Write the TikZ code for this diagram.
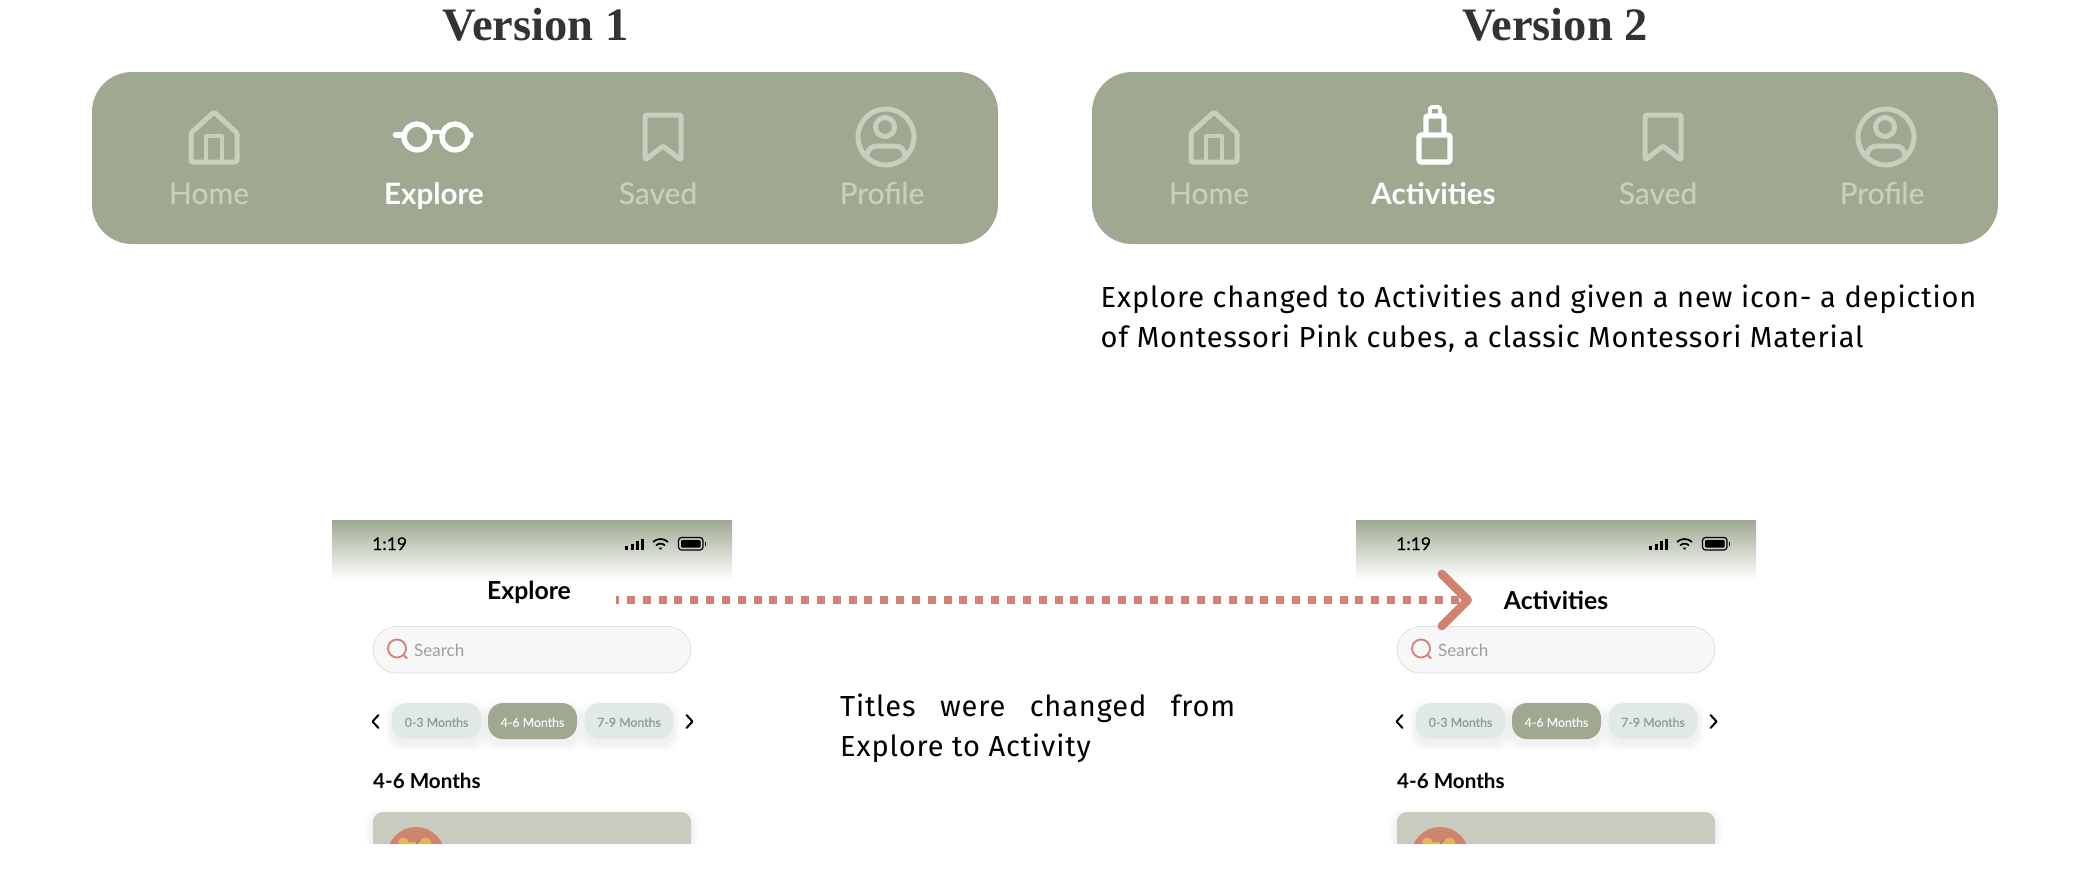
\documentclass[tikz,border=0pt]{standalone}
\usepackage{fontspec}
\setmainfont{Lato}
\newfontfamily\medfont[FakeBold=0.25]{Lato}
\newfontfamily\headfont{Liberation Serif}
\newfontfamily\notefont[LetterSpace=3]{Fira Sans}
\usetikzlibrary{arrows.meta, positioning}
\definecolor{sage}{HTML}{9FA992}
\definecolor{faded}{HTML}{C9CEBF}
\definecolor{salmon}{HTML}{D08371}
\definecolor{chipgrey}{HTML}{E0E9E6}
\definecolor{chiptext}{HTML}{8E9B8E}
\definecolor{cardgrey}{HTML}{C8CBBE}
\definecolor{earyellow}{HTML}{E8B45A}
\newcommand{\px}[1]{\fontsize{#1}{#1}\selectfont}
\newcommand{\softbox}[5]{%
    \foreach \g in {1,...,7}
        \fill[black, opacity=.007, rounded corners=#5pt] (#1-\g,#2+5-\g) rectangle (#3+\g,#4+5+\g);
}
\tikzset{
    vertitle/.style={inner sep=0pt, anchor=base, text=black!80, font=\headfont\bfseries\px{46.5}},
    navbar/.style={rectangle, fill=sage, rounded corners=40pt, minimum width=906pt, minimum height=172pt, inner sep=0pt},
    navlabel/.style={inner sep=0pt, anchor=base, text=faded, font=\medfont\px{30}},
    navactive/.style={inner sep=0pt, anchor=base, text=white, font=\bfseries\px{29.5}},
    fadedicon/.style={draw=faded, line width=5pt, line join=round, line cap=round, rounded corners=1.5pt},
    activeicon/.style={draw=white, line width=5.4pt, line join=round, line cap=round},
    note/.style={inner sep=0pt, anchor=base west, text=black, font=\notefont\fontsize{29}{40}\selectfont},
    screentitle/.style={inner sep=0pt, anchor=base, text=black, font=\bfseries\px{24.8}},
    chip/.style={rectangle, rounded corners=15pt, minimum width=89pt, minimum height=36pt, inner sep=0pt, text height=11.5pt, text depth=0pt, font=\medfont\px{12.3}},
    chiparrow/.style={draw=black, line width=2pt, line cap=round, line join=round},
    dotarrow/.style={draw=salmon, line width=7.5pt, dash pattern=on 8pt off 7.84pt, dash phase=5pt,
        -{Straight Barb[length=26pt, width=52pt, line width=8.5pt, round]}}
}
\begin{document}
\begin{tikzpicture}[x=1pt, y=-1pt]
\useasboundingbox (0,0) rectangle (2092,892);
% version titles
\node[vertitle] (titleone) at (535.5,40) {Version 1};
\node[vertitle] (titletwo) at (1555,40) {Version 2};
% nav bars
\node[navbar] (barone) at (545,158) {};
\node[navbar] (bartwo) at (1545,158) {};
\foreach \ver/\dx in {one/0,two/1000} {
    \begin{scope}[xshift=\dx pt]
        % home
        \draw[fadedicon] (191,133) -- (214,112) -- (237,133) -- (237,162) -- (191,162) -- cycle;
        \draw[fadedicon, line width=4pt, rounded corners=0pt] (206,162) -- (206,136) -- (222,136) -- (222,162);
        \node[navlabel] (\ver home) at (209,204) {Home};
        % saved
        \draw[fadedicon] (645,115) -- (681,115) -- (681,160) -- (663,146) -- (645,160) -- cycle;
        \node[navlabel] (\ver saved) at (658,204) {Saved};
        % profile
        \draw[fadedicon] (886,137) circle (28);
        \draw[fadedicon] (885,127) circle (9.5);
        \draw[fadedicon] (867,157) .. controls (867,149) and (872,146) .. (878,146) -- (894,146) .. controls (900,146) and (905,149) .. (905,157);
        \node[navlabel] (\ver profile) at (882,204) {Profile};
    \end{scope}
}
% active items
\draw[activeicon] (417,137) circle (13);
\draw[activeicon] (455,137) circle (13);
\draw[activeicon] (395.5,135) -- (404,135);
\draw[activeicon] (468,135) -- (471,135);
\draw[activeicon, line width=4pt] (429,134) .. controls (432,131) and (440,131) .. (443,134);
\node[navactive] (exploreitem) at (434,204) {Explore};
\draw[activeicon, rounded corners=2.5pt] (1419,135) rectangle (1450,162);
\draw[activeicon, rounded corners=1.5pt] (1426,133) -- (1426,116) -- (1444,116) -- (1444,133);
\draw[activeicon, line width=3.8pt, rounded corners=1.5pt] (1430,115) -- (1430,107) -- (1440,107) -- (1440,115);
\node[navactive] (activityitem) at (1433.5,204) {Activities};
% notes
\node[note] (noteone) at (1100.5,307) {Explore changed to Activities and given a new icon- a depiction};
\node[note] (notetwo) at (1100.5,347) {of Montessori Pink cubes, a classic Montessori Material};
\node[note, text width=395pt, align=justify, anchor=base west] (titlenote) at (840,716) {Titles were changed from\linebreak Explore to Activity};
% the two phone screens
\foreach \ver/\dx in {one/0,two/1024} {
    \begin{scope}[xshift=\dx pt]
        \shade[top color=sage, middle color=sage!30!white, bottom color=white] (332,520) rectangle (732,580);
        \node[inner sep=0pt, anchor=base west, font=\medfont\px{17.5}] (\ver time) at (372,550) {1:19};
        % signal, wifi, battery
        \foreach \bx/\bh in {625/4,630.5/6,636/9,641/11}
            \fill[black] (\bx,549.5) rectangle (\bx+3,549.5-\bh);
        \draw[black, line width=1.7pt] (653,542) .. controls (657,538) and (664,538) .. (668,542);
        \draw[black, line width=1.7pt] (656,545.5) .. controls (658.5,543) and (662.5,543) .. (665,545.5);
        \fill[black] (658.5,547.5) -- (662.5,547.5) -- (660.5,550) -- cycle;
        \draw[black, line width=1.2pt, rounded corners=3pt] (678.5,537.5) rectangle (703,550);
        \fill[black, rounded corners=1pt] (681,540) rectangle (700.5,547.5);
        \fill[black] (704.5,541.5) rectangle (706,546);
        % search bar
        \draw[draw=black!12, fill=black!3, line width=.8pt, rounded corners=23.5pt] (373,626.5) rectangle (691,673);
        \draw[salmon, line width=1.8pt] (397,648.5) circle (9);
        \draw[salmon, line width=1.8pt, line cap=round] (403.5,655) -- (407,658.5);
        \node[inner sep=0pt, anchor=base west, text=black!38, font=\px{17}] (\ver search) at (414,656) {Search};
        % age chips
        \softbox{392}{703}{481}{739}{15}
        \softbox{488}{703}{577}{739}{15}
        \softbox{585}{703}{673}{739}{15}
        \node[chip, fill=chipgrey, text=chiptext] (\ver chipa) at (436.5,721) {0-3 Months};
        \node[chip, fill=sage, text=white!92!sage] (\ver chipb) at (532.5,721) {4-6 Months};
        \node[chip, fill=chipgrey, text=chiptext] (\ver chipc) at (629,721) {7-9 Months};
        \draw[chiparrow] (378.5,715) -- (372.5,721.5) -- (378.5,728);
        \draw[chiparrow] (686.5,715) -- (692.5,721.5) -- (686.5,728);
        \node[inner sep=0pt, anchor=base west, text=black, font=\bfseries\px{20.6}] (\ver heading) at (373,788) {4-6 Months};
        % card, cut off by the crop
        \begin{scope}
            \clip (340,790) rectangle (730,843);
            \softbox{373}{812}{691}{860}{10}
            \fill[cardgrey, rounded corners=10pt] (373,812) rectangle (691,880);
            \fill[salmon] (416,856) circle (29);
            \fill[earyellow] (403.5,843) circle (5.5);
            \fill[earyellow] (425.5,843) circle (5.5);
            \fill[earyellow] (405,841.5) rectangle (424,845);
            \draw[black!70, line width=.6pt] (416,844) -- (419,841);
        \end{scope}
    \end{scope}
}
\node[screentitle] (exploretitle) at (529,599.5) {Explore};
\node[screentitle] (activitytitle) at (1556,609.5) {Activities};
% the arrow between the titles
\coordinate (arrowstart) at (616,600);
\coordinate (arrowend) at (1472,600);
\draw[dotarrow] (arrowstart) -- (arrowend);
\end{tikzpicture}
\end{document}
